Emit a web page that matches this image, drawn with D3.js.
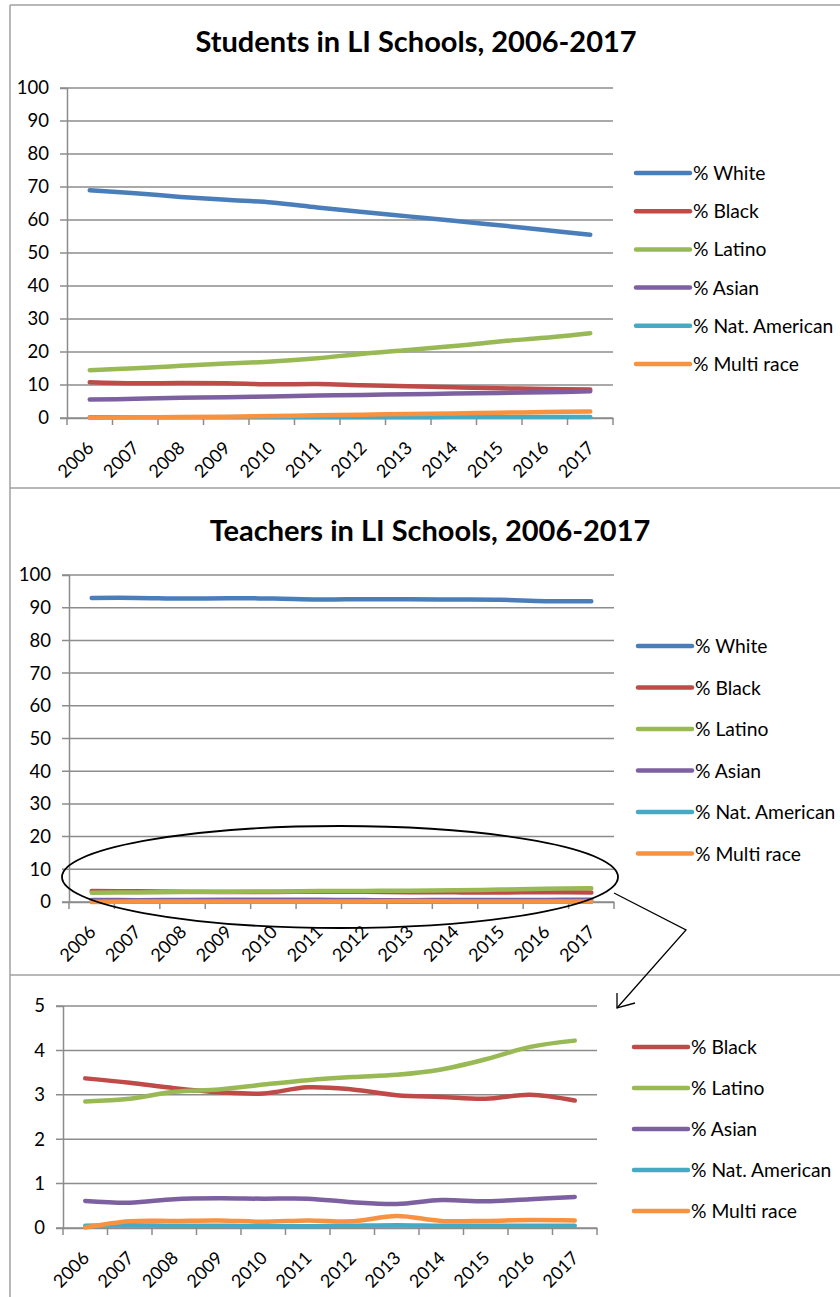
<!DOCTYPE html>
<html>
<head>
<meta charset="utf-8">
<script src="https://cdn.jsdelivr.net/npm/d3@7"></script>
<style>
  body { margin: 0; background: #fff; }
  svg { display: block; font-family: Lato, "Open Sans", sans-serif; }
</style>
</head>
<body>
<svg id="chart" width="840" height="1297"></svg>
<script>
// categories
var years = ["2006","2007","2008","2009","2010","2011","2012","2013","2014","2015","2016","2017"]

// students, percent
var studentWhite  = [69.0, 68.1, 67.0, 66.1, 65.3, 63.8, 62.4, 61.1, 59.8, 58.4, 57.0, 55.5]
var studentBlack  = [10.8, 10.5, 10.6, 10.5, 10.2, 10.3, 9.9, 9.6, 9.3, 9.0, 8.8, 8.6]
var studentLatino = [14.5, 15.1, 15.8, 16.5, 17.1, 18.1, 19.5, 20.6, 21.8, 23.2, 24.3, 25.7]
var studentAsian  = [5.6, 5.8, 6.1, 6.3, 6.5, 6.8, 7.0, 7.2, 7.4, 7.6, 7.8, 8.1]
var studentNatAm  = [0.2, 0.2, 0.2, 0.2, 0.2, 0.2, 0.2, 0.2, 0.3, 0.3, 0.3, 0.3]
var studentMulti  = [0.1, 0.2, 0.3, 0.4, 0.6, 0.8, 1.0, 1.2, 1.4, 1.6, 1.8, 2.0]

// teachers, percent
var teacherWhite  = [93.0, 93.0, 92.8, 92.9, 92.8, 92.5, 92.6, 92.6, 92.5, 92.4, 92.0, 92.0]
var teacherBlack  = [3.37, 3.27, 3.15, 3.06, 3.03, 3.17, 3.12, 2.99, 2.95, 2.91, 3.00, 2.87]
var teacherLatino = [2.85, 2.91, 3.07, 3.12, 3.23, 3.33, 3.40, 3.45, 3.57, 3.80, 4.08, 4.22]
var teacherAsian  = [0.61, 0.57, 0.65, 0.67, 0.66, 0.66, 0.58, 0.54, 0.63, 0.60, 0.65, 0.70]
var teacherNatAm  = [0.05, 0.06, 0.05, 0.05, 0.04, 0.04, 0.05, 0.06, 0.05, 0.05, 0.05, 0.05]
var teacherMulti  = [0.01, 0.15, 0.16, 0.17, 0.14, 0.17, 0.15, 0.27, 0.16, 0.16, 0.18, 0.17]

var seriesNames = ["% White", "% Black", "% Latino", "% Asian", "% Nat. American", "% Multi race"]
var ticksBig = [0, 10, 20, 30, 40, 50, 60, 70, 80, 90, 100]
var ticksSmall = [0, 1, 2, 3, 4, 5]

var colors = {
    "% White": "#4A7EBB",
    "% Black": "#BE4B48",
    "% Latino": "#98B954",
    "% Asian": "#7D60A0",
    "% Nat. American": "#46AAC5",
    "% Multi race": "#F69240"
}

var svg = d3.select("#chart")
var gridColor = "#8c8c8c"

// panel frames
svg.append("line").attr("x1", 10).attr("x2", 10).attr("y1", 5).attr("y2", 1297)
    .attr("stroke", "#a0a0a0").attr("stroke-width", 1.5)
svg.append("line").attr("x1", 10).attr("x2", 840).attr("y1", 5).attr("y2", 5)
    .attr("stroke", "#a0a0a0").attr("stroke-width", 1.5)
;[488, 975].forEach(function(yy) {
    svg.append("line").attr("x1", 10).attr("x2", 840).attr("y1", yy).attr("y2", yy)
        .attr("stroke", "#a0a0a0").attr("stroke-width", 1.5)
})

function drawPanel(p) {
    var g = svg.append("g")
    var x = d3.scaleBand().domain(years).range([p.left, p.right])
    var y = d3.scaleLinear().domain([0, p.max]).range([p.bottom, p.top])

    if (p.title) {
        g.append("text")
            .attr("x", p.titleX).attr("y", p.titleY)
            .attr("text-anchor", "middle")
            .attr("font-size", 29).attr("font-weight", "bold")
            .text(p.title)
    }

    // gridlines
    g.selectAll(".grid").data(p.ticks).enter().append("line")
        .attr("x1", p.left - 7).attr("x2", p.right)
        .attr("y1", function(d) { return y(d) }).attr("y2", function(d) { return y(d) })
        .attr("stroke", gridColor).attr("stroke-width", 1.5)

    var yAxis = g.append("g")
        .attr("transform", "translate(" + p.left + ",0)")
        .call(d3.axisLeft(y).tickValues(p.ticks).tickFormat(d3.format("d")).tickSize(7).tickPadding(11))
    yAxis.select(".domain").attr("stroke", gridColor).attr("stroke-width", 1.5)
    yAxis.selectAll(".tick line").remove()
    yAxis.selectAll("text").attr("font-size", 18.5).attr("font-family", "Lato, sans-serif").attr("fill", "#000")

    // x axis: labels centred in bands, ticks on band edges
    var xAxis = g.append("g")
        .attr("transform", "translate(0," + p.bottom + ")")
        .call(d3.axisBottom(x).tickSize(0))
    xAxis.select(".domain").attr("stroke", gridColor).attr("stroke-width", 1.5)
    xAxis.selectAll("text")
        .attr("font-size", 18).attr("font-family", "Lato, sans-serif").attr("fill", "#000")
        .attr("text-anchor", "end")
        .attr("dy", 0)
        .attr("transform", "translate(3,29) rotate(-45)")
    var edges = d3.range(years.length + 1)
    g.selectAll(".xtick").data(edges).enter().append("line")
        .attr("x1", function(i) { return p.left + i * x.step() })
        .attr("x2", function(i) { return p.left + i * x.step() })
        .attr("y1", p.bottom).attr("y2", p.bottom + 7)
        .attr("stroke", gridColor).attr("stroke-width", 1.5)

    var line = d3.line()
        .x(function(d, i) { return x(years[i]) + x.bandwidth() / 2 })
        .y(function(d) { return y(d) })
        .curve(d3.curveCatmullRom)

    p.series.forEach(function(s) {
        g.append("path")
            .attr("d", line(s.values))
            .attr("fill", "none")
            .attr("stroke", colors[s.name])
            .attr("stroke-width", 4.5)
            .attr("stroke-linecap", "round")
            .attr("stroke-linejoin", "round")
    })

    // legend
    p.series.forEach(function(s, i) {
        var ly = p.legendY + i * p.legendStep
        g.append("line")
            .attr("x1", p.legendX).attr("x2", p.legendX + 54)
            .attr("y1", ly).attr("y2", ly)
            .attr("stroke", colors[s.name]).attr("stroke-width", 4.5)
            .attr("stroke-linecap", "round")
        g.append("text")
            .attr("x", p.legendX + 57).attr("y", ly + 7)
            .attr("font-size", 19.3)
            .text(s.name)
    })
}

drawPanel({
    title: "Students in LI Schools, 2006-2017", titleX: 416, titleY: 52,
    left: 67, right: 613, top: 88, bottom: 418, max: 100, ticks: ticksBig,
    legendX: 636, legendY: 173, legendStep: 38.2,
    series: [
        {name: seriesNames[0], values: studentWhite},
        {name: seriesNames[1], values: studentBlack},
        {name: seriesNames[2], values: studentLatino},
        {name: seriesNames[3], values: studentAsian},
        {name: seriesNames[4], values: studentNatAm},
        {name: seriesNames[5], values: studentMulti}
    ]
})

drawPanel({
    title: "Teachers in LI Schools, 2006-2017", titleX: 430, titleY: 541,
    left: 69, right: 614, top: 575, bottom: 902, max: 100, ticks: ticksBig,
    legendX: 638, legendY: 646, legendStep: 41.5,
    series: [
        {name: seriesNames[0], values: teacherWhite},
        {name: seriesNames[1], values: teacherBlack},
        {name: seriesNames[2], values: teacherLatino},
        {name: seriesNames[3], values: teacherAsian},
        {name: seriesNames[4], values: teacherNatAm},
        {name: seriesNames[5], values: teacherMulti}
    ]
})

drawPanel({
    title: null,
    left: 63, right: 597, top: 1006, bottom: 1228, max: 5, ticks: ticksSmall,
    legendX: 634, legendY: 1047, legendStep: 41,
    series: [
        {name: seriesNames[1], values: teacherBlack},
        {name: seriesNames[2], values: teacherLatino},
        {name: seriesNames[3], values: teacherAsian},
        {name: seriesNames[4], values: teacherNatAm},
        {name: seriesNames[5], values: teacherMulti}
    ]
})

// zoom annotation: ellipse round the low teacher lines and an arrow down
svg.append("ellipse")
    .attr("cx", 340).attr("cy", 877).attr("rx", 278).attr("ry", 51)
    .attr("fill", "none").attr("stroke", "#000").attr("stroke-width", 1.8)
svg.append("polyline")
    .attr("points", "614,893 686,930 617,1008")
    .attr("fill", "none").attr("stroke", "#000").attr("stroke-width", 1.3)
svg.append("polyline")
    .attr("points", "617,993 617,1008 635,1003")
    .attr("fill", "none").attr("stroke", "#000").attr("stroke-width", 1.3)
</script>
</body>
</html>
